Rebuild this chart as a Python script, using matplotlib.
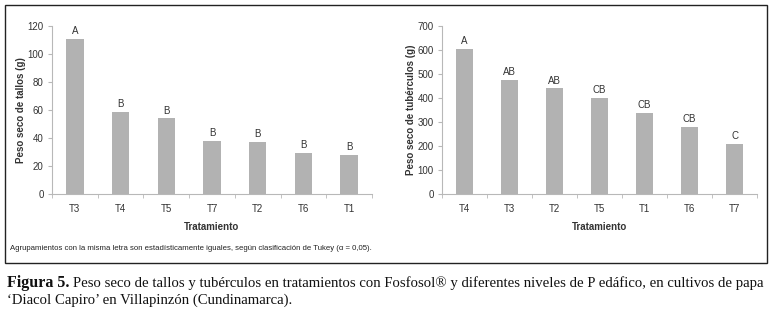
import matplotlib
matplotlib.use("Agg")
import matplotlib.pyplot as plt
from matplotlib.patches import Rectangle

# Data
cats_tallos = ["T3", "T4", "T5", "T7", "T2", "T6", "T1"]
vals_tallos = [111, 58.8, 54, 37.7, 37.2, 29.4, 27.7]
letras_tallos = ["A", "B", "B", "B", "B", "B", "B"]

cats_tub = ["T4", "T3", "T2", "T5", "T1", "T6", "T7"]
vals_tub = [606, 474, 440, 400, 338, 278, 209]
letras_tub = ["A", "AB", "AB", "CB", "CB", "CB", "C"]

W, H = 771, 314
fig = plt.figure(figsize=(W / 100, H / 100), dpi=100)
plt.rcParams['font.family'] = ['Liberation Sans', 'DejaVu Sans']

bar_color = "#b2b2b2"
axis_color = "#b8b8b8"
text_color = "#333333"

def panel(rect, cats, vals, letras, ymax, ystep, ylabel, off):
    ax = fig.add_axes(rect)
    x = list(range(len(cats)))
    ax.bar(x, vals, width=0.38, color=bar_color, zorder=2)
    for xi, v, l in zip(x, vals, letras):
        ax.text(xi, v + off, l, ha="center", va="bottom", fontsize=7, color=text_color)
    ax.set_xlim(-0.5, len(cats) - 0.5)
    ax.set_ylim(0, ymax)
    ax.set_yticks(range(0, ymax + 1, ystep))
    ax.set_xticks(x)
    ax.set_xticklabels(cats)
    ax.set_xticks([i + 0.5 for i in range(-1, len(cats))], minor=True)
    ax.tick_params(axis="x", which="major", length=0, pad=7, labelsize=7, colors=text_color)
    ax.tick_params(axis="x", which="minor", length=3, direction="out", color=axis_color)
    ax.tick_params(axis="y", length=3, direction="out", color=axis_color, labelsize=7,
                   labelcolor=text_color, pad=3)
    for s in ["top", "right"]:
        ax.spines[s].set_visible(False)
    for s in ["left", "bottom"]:
        ax.spines[s].set_color(axis_color)
        ax.spines[s].set_linewidth(0.8)
    ax.set_ylabel(ylabel, fontsize=7, fontweight="bold", color=text_color, labelpad=1)
    ax.set_xlabel("Tratamiento", fontsize=7, fontweight="bold", color=text_color, labelpad=6)
    return ax

panel([52 / W, 1 - 194 / H, 320 / W, 168 / H], cats_tallos, vals_tallos, letras_tallos,
      120, 20, "Peso seco de tallos (g)", 2)
panel([442 / W, 1 - 194 / H, 315 / W, 168 / H], cats_tub, vals_tub, letras_tub,
      700, 100, "Peso seco de tubérculos (g)", 12)

# outer frame
fig.patches.append(Rectangle((5 / W, 1 - 263 / H), 762 / W, 258 / H, transform=fig.transFigure,
                             fill=False, edgecolor="#222222", linewidth=1.0))

fig.text(10 / W, 1 - 248 / H,
         "Agrupamientos con la misma letra son estadísticamente iguales, según clasificación de Tukey (α = 0,05).",
         fontsize=5.6, family=['Liberation Sans Narrow', 'Liberation Sans', 'DejaVu Sans'],
         color="#222222", va="center", ha="left")

cap_font = ['Liberation Serif', 'DejaVu Serif']
fig.text(7 / W, 1 - 283 / H, "Figura 5.", fontsize=11.5, fontweight="bold", family=cap_font,
         va="center", ha="left", color="#111111")
fig.text(73 / W, 1 - 283 / H,
         "Peso seco de tallos y tubérculos en tratamientos con Fosfosol® y diferentes niveles de P edáfico, en cultivos de papa",
         fontsize=10.6, family=cap_font, va="center", ha="left", color="#111111")
fig.text(7 / W, 1 - 300 / H, "‘Diacol Capiro’ en Villapinzón (Cundinamarca).",
         fontsize=10.6, family=cap_font, va="center", ha="left", color="#111111")

fig.savefig("out.png", dpi=100, facecolor="white")
